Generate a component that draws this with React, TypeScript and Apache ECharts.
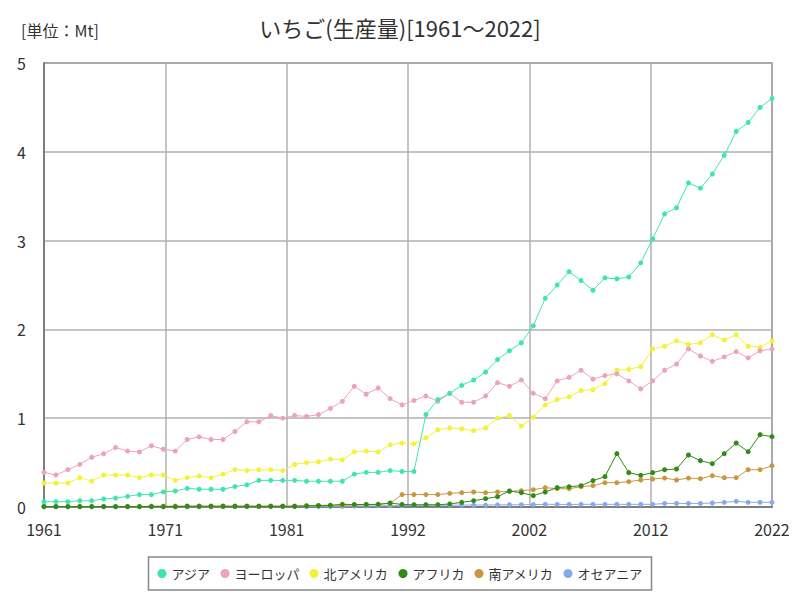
import React, { useEffect, useRef } from "react";
import * as echarts from "echarts";

const years: number[] = Array.from({ length: 62 }, (_, i) => 1961 + i);

const seriesNames = ["アジア", "ヨーロッパ", "北アメリカ", "アフリカ", "南アメリカ", "オセアニア"];
const seriesColors = ["#3fe6ac", "#eda3ba", "#f2f23a", "#2f8c16", "#c99742", "#88aaea"];

const asia = [
  0.06, 0.06, 0.06, 0.07, 0.07, 0.09, 0.10, 0.12, 0.14, 0.14,
  0.17, 0.18, 0.21, 0.20, 0.20, 0.20, 0.23, 0.25, 0.30, 0.30,
  0.30, 0.30, 0.29, 0.29, 0.29, 0.29, 0.37, 0.39, 0.39, 0.41,
  0.40, 0.40,
  1.04, 1.21, 1.28, 1.37, 1.43, 1.52, 1.66, 1.76, 1.85, 2.04,
  2.35, 2.50, 2.65, 2.55, 2.44, 2.58, 2.57, 2.59, 2.75, 3.02,
  3.30, 3.37, 3.65, 3.59, 3.75, 3.96, 4.23, 4.33, 4.50, 4.60,
];
const europe = [
  0.39, 0.36, 0.42, 0.48, 0.56, 0.60, 0.67, 0.63, 0.62, 0.69,
  0.65, 0.63, 0.76, 0.79, 0.76, 0.76, 0.85, 0.96, 0.96, 1.03,
  1.00, 1.03, 1.02, 1.04, 1.11, 1.19, 1.36, 1.27, 1.34, 1.22,
  1.15, 1.20,
  1.25, 1.19, 1.28, 1.18, 1.18, 1.25, 1.40, 1.36, 1.43, 1.28,
  1.22, 1.42, 1.46, 1.54, 1.44, 1.48, 1.50, 1.42, 1.33, 1.42,
  1.54, 1.61, 1.78, 1.70, 1.64, 1.69, 1.75, 1.68, 1.76, 1.78,
];
const northAmerica = [
  0.27, 0.27, 0.27, 0.33, 0.29, 0.36, 0.36, 0.36, 0.33, 0.36,
  0.36, 0.30, 0.33, 0.35, 0.33, 0.37, 0.42, 0.41, 0.42, 0.42,
  0.41, 0.48, 0.50, 0.51, 0.54, 0.53, 0.62, 0.63, 0.62, 0.70,
  0.72, 0.71,
  0.78, 0.87, 0.89, 0.88, 0.86, 0.89, 1.00, 1.03, 0.91, 1.01,
  1.15, 1.21, 1.24, 1.31, 1.32, 1.39, 1.54, 1.55, 1.58, 1.78,
  1.81, 1.87, 1.83, 1.85, 1.94, 1.88, 1.94, 1.81, 1.80, 1.87,
];
const africa = [
  0.005, 0.005, 0.005, 0.005, 0.005, 0.005, 0.005, 0.005, 0.005, 0.005,
  0.005, 0.005, 0.008, 0.008, 0.008, 0.008, 0.008, 0.008, 0.008, 0.008,
  0.008, 0.008, 0.012, 0.015, 0.018, 0.03, 0.028, 0.028, 0.03, 0.045,
  0.028, 0.025,
  0.025, 0.025, 0.034, 0.053, 0.071, 0.094, 0.116, 0.18, 0.161, 0.128,
  0.169, 0.218, 0.229, 0.24, 0.297, 0.342, 0.601, 0.387, 0.357, 0.387,
  0.42, 0.428, 0.586, 0.522, 0.488, 0.601, 0.721, 0.623, 0.815, 0.792,
];
const southAmerica = [
  0.006, 0.006, 0.006, 0.006, 0.006, 0.006, 0.006, 0.006, 0.006, 0.01,
  0.01, 0.01, 0.01, 0.01, 0.01, 0.01, 0.01, 0.01, 0.01, 0.01,
  0.01, 0.01, 0.015, 0.018, 0.02, 0.02, 0.022, 0.025, 0.03, 0.04,
  0.14, 0.14,
  0.14, 0.14, 0.154, 0.161, 0.169, 0.161, 0.169, 0.176, 0.184, 0.195,
  0.218, 0.206, 0.206, 0.229, 0.24, 0.274, 0.274, 0.285, 0.304, 0.315,
  0.326, 0.304, 0.326, 0.319, 0.353, 0.33, 0.33, 0.42, 0.42, 0.465,
];
const oceania = [
  0.003, 0.003, 0.003, 0.003, 0.003, 0.003, 0.003, 0.003, 0.003, 0.003,
  0.003, 0.003, 0.003, 0.003, 0.003, 0.005, 0.005, 0.005, 0.005, 0.005,
  0.005, 0.005, 0.005, 0.005, 0.005, 0.008, 0.01, 0.011, 0.013, 0.014,
  0.016, 0.018,
  0.02, 0.02, 0.02, 0.022, 0.022, 0.022, 0.024, 0.025, 0.026, 0.027,
  0.03, 0.03, 0.028, 0.03, 0.03, 0.03, 0.03, 0.03, 0.03, 0.03,
  0.04, 0.04, 0.04, 0.04, 0.045, 0.053, 0.064, 0.053, 0.053, 0.053,
];

const allValues = [asia, europe, northAmerica, africa, southAmerica, oceania];

const titleText = "いちご(生産量)[1961～2022]";
const unitText = "[単位：Mt]";
const yTicks = [0, 1, 2, 3, 4, 5];

const FONT = "'Noto Sans CJK JP', 'Noto Sans', sans-serif";
const firstYear = years[0];
const SUB = 6; // x is measured in sixths of a year so that the 6 equal splits are integers

export default function App() {
  const ref = useRef<HTMLDivElement>(null);
  useEffect(() => {
    if (!ref.current) return;
    const chart = echarts.init(ref.current, null, { renderer: "svg" });
    const span = (years[years.length - 1] - firstYear) * SUB;
    chart.setOption({
      animation: false,
      backgroundColor: "#ffffff",
      textStyle: { fontFamily: FONT },
      title: [
        {
          text: titleText,
          left: "center",
          top: 11,
          textStyle: { fontFamily: FONT, fontSize: 22, fontWeight: "normal", color: "#333" },
        },
        {
          text: unitText,
          left: 16,
          top: 17,
          textStyle: { fontFamily: FONT, fontSize: 16, fontWeight: "normal", color: "#333" },
        },
      ],
      legend: {
        data: seriesNames,
        bottom: 10,
        left: "center",
        icon: "circle",
        itemWidth: 9,
        itemHeight: 9,
        itemGap: 10,
        borderColor: "#888",
        borderWidth: 1.5,
        padding: [10, 9],
        textStyle: { fontFamily: FONT, fontSize: 13, color: "#333" },
      },
      grid: {
        left: 44,
        right: 28,
        top: 63,
        bottom: 93,
        show: true,
        borderColor: "#707070",
        borderWidth: 1.5,
        containLabel: false,
      },
      xAxis: {
        type: "value",
        min: 0,
        max: span,
        interval: span / 6,
        axisLine: { show: true, lineStyle: { color: "#707070", width: 1.5 } },
        axisTick: { show: false },
        splitLine: { show: true, lineStyle: { color: "#b0b0b0", width: 1.5 } },
        axisLabel: {
          margin: 14,
          fontSize: 16,
          color: "#333",
          fontFamily: FONT,
          formatter: (v: number) => String(Math.round(firstYear + v / SUB)),
        },
      },
      yAxis: {
        type: "value",
        min: yTicks[0],
        max: yTicks[yTicks.length - 1],
        interval: 1,
        axisLine: { show: true, lineStyle: { color: "#707070", width: 1.5 } },
        axisTick: { show: false },
        splitLine: { show: true, lineStyle: { color: "#b0b0b0", width: 1.5 } },
        axisLabel: { margin: 18, fontSize: 16, color: "#333", fontFamily: FONT },
      },
      series: seriesNames.map((name, si) => ({
        name,
        type: "line",
        z: 10 - si,
        data: allValues[si].map((v, i) => [(years[i] - firstYear) * SUB, v]),
        symbol: "circle",
        symbolSize: 5,
        showSymbol: true,
        lineStyle: { width: 1, color: seriesColors[si] },
        itemStyle: { color: seriesColors[si] },
        emphasis: { disabled: true },
      })),
    });
    return () => chart.dispose();
  }, []);
  return (
    <div
      ref={ref}
      style={{ position: "fixed", left: 0, top: 0, width: 800, height: 600 }}
    />
  );
}
